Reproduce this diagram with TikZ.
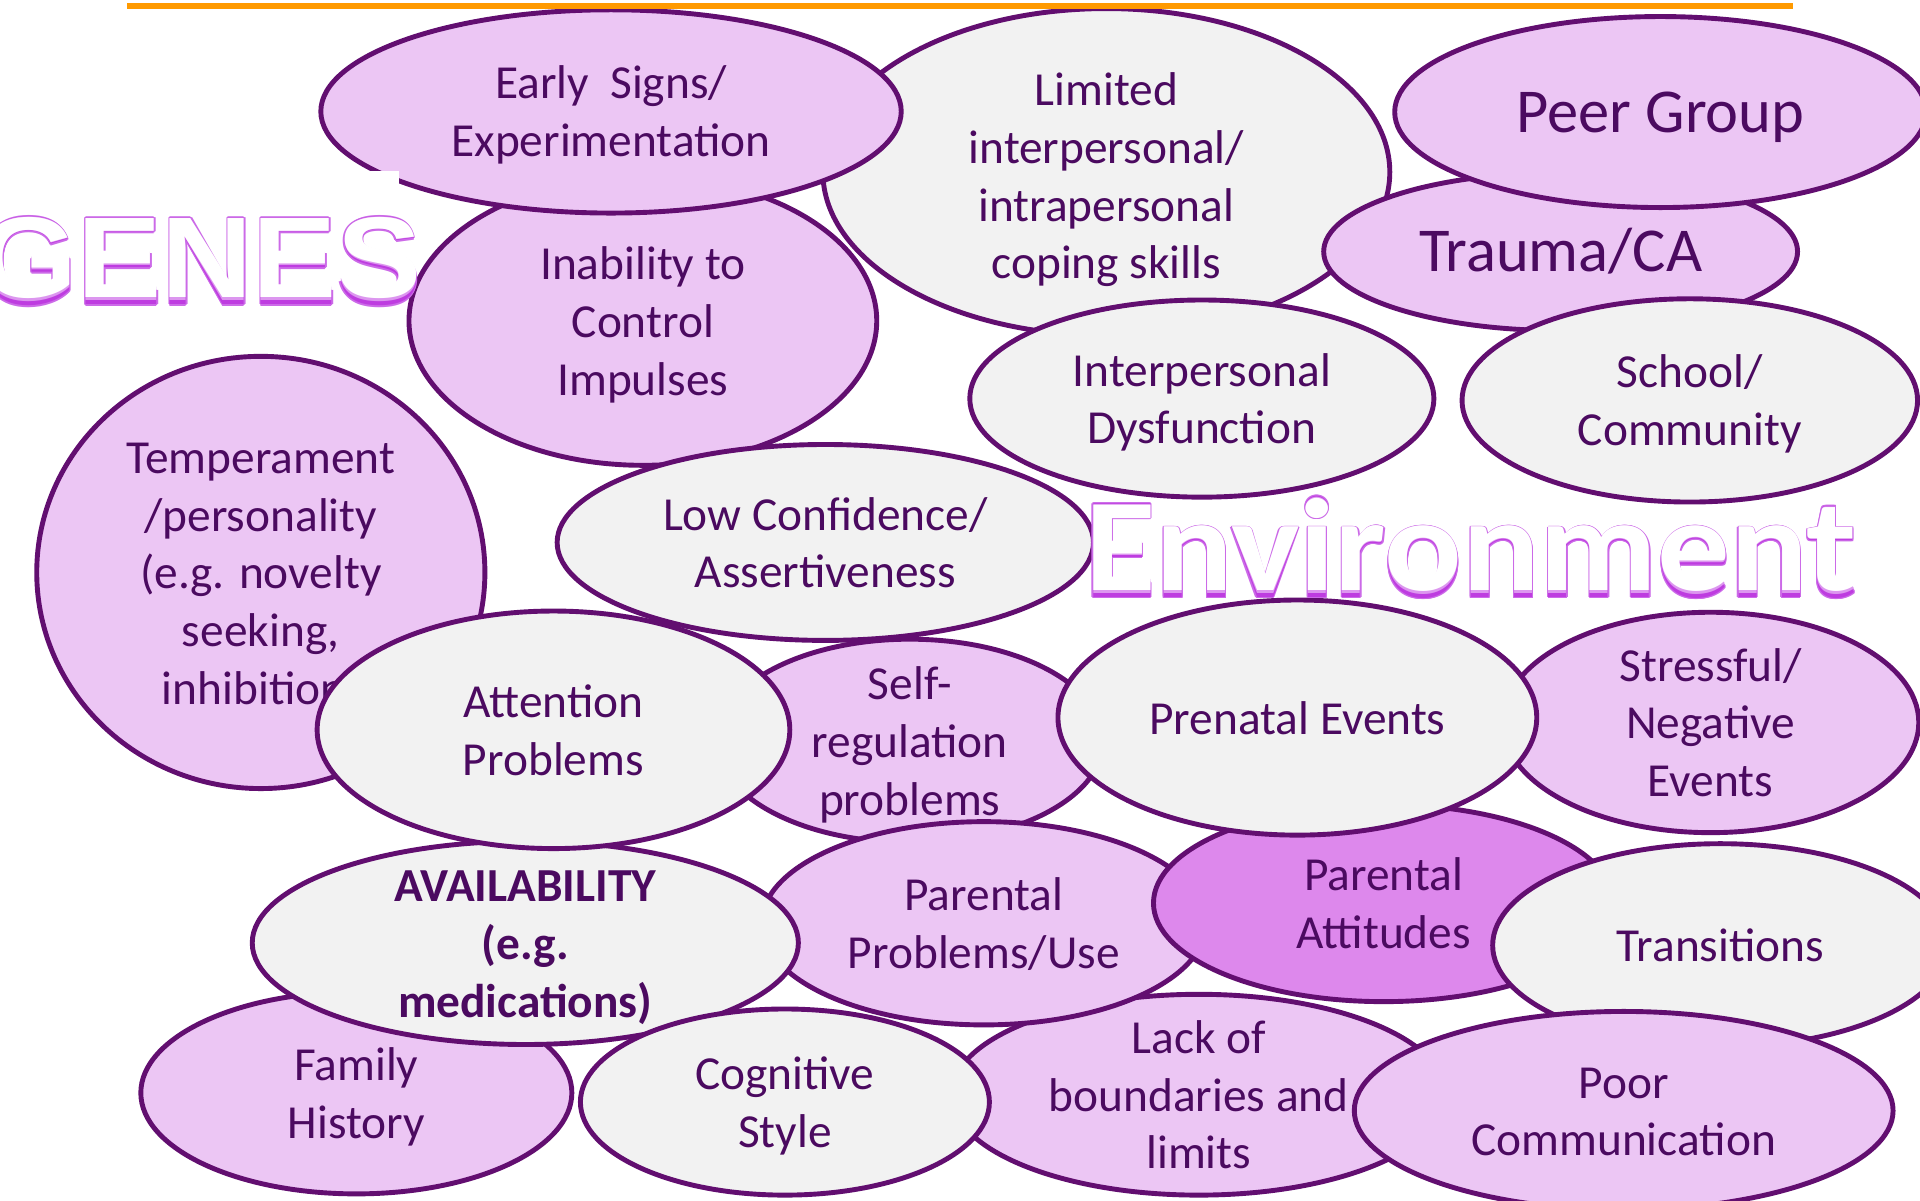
\documentclass[tikz,border=0pt]{standalone}
\usepackage{fontspec}
\setmainfont{Carlito}
\newfontfamily\genesfont{Liberation Sans}
\usetikzlibrary{shapes.geometric}
\definecolor{outl}{HTML}{620E70}
\definecolor{txt}{HTML}{4B0A60}
\definecolor{lav}{HTML}{ECC6F4}
\definecolor{gry}{HTML}{F2F2F2}
\definecolor{mauve}{HTML}{DD88EC}
\definecolor{fxdark}{HTML}{BE3CE0}
\definecolor{fxmid}{HTML}{DC96EF}
\definecolor{fxline}{HTML}{CC6AE8}
\definecolor{orng}{HTML}{FF9A00}
\tikzset{
  bubble/.style={ellipse, draw=outl, line width=4pt, inner sep=0pt, outer sep=0pt},
  btext/.style={align=center, text=txt, inner sep=0pt, yshift=-4pt, font=\fontsize{38.7}{47.2}\selectfont},
  bigtext/.style={align=center, text=txt, inner sep=0pt, yshift=-4pt, font=\fontsize{51}{62}\selectfont},
  lowtext/.style={btext, yshift=-3pt},
  fx/.style={inner sep=0pt, outer sep=0pt},
  orangeline/.style={draw=orng, line width=4.6pt},
}
% #1 text style, #2 name, #3 x, #4 y, #5 width, #6 height, #7 fill, #8 text
\newcommand\bub[8][btext]{%
  \node[bubble, fill=#7, minimum width=#5pt-4pt, minimum height=#6pt-4pt] (#2) at (#3,#4) {};
  \node[#1] (#2-t) at (#2.center) {\strut #8\strut};
}
% #1 name, #2 anchor, #3 coordinate, #4 extra options, #5 content
\newcommand\fancy[5]{%
  \foreach \dx/\dy [count=\k] in {-1/0,1/0,0/-1,0/1,-0.7/-0.7,0.7/-0.7,-0.7/0.7,0.7/0.7}
    \node[fx, #4, anchor=#2, text=fxline, xshift=\dx pt, yshift=\dy pt] (#1-o\k) at #3 {#5};
  \node[fx, #4, anchor=#2, text=fxdark] (#1) at #3 {#5};
  \node[fx, #4, anchor=#2, text=fxmid, yscale=0.95, yshift=-0.6pt] (#1-m) at #3 {#5};
  \node[fx, #4, anchor=#2, text=white, yscale=0.91, yshift=-1pt] (#1-w) at #3 {#5};
}
\begin{document}
\begin{tikzpicture}[x=1pt,y=-1pt]
\useasboundingbox (0,0) rectangle (1568,980);
\clip (0,0) rectangle (1568,980);
\fill[white] (0,0) rectangle (1568,980);

\bub[lowtext]{limited}{903.5}{140.5}{467}{271}{gry}{Limited\\interpersonal/\\intrapersonal\\coping skills}
\bub{inability}{525}{262}{386}{240}{lav}{Inability to\\Control\\Impulses}
\bub{early}{499}{91}{478}{170}{lav}{Early\ \ Signs/\\Experimentation}
\bub[bigtext]{trauma}{1274.5}{205.5}{391}{133}{lav}{Trauma/CA}
\bub[bigtext]{peer}{1356}{91.5}{438}{160}{lav}{Peer Group}
\bub{school}{1380}{327}{376}{170}{gry}{School/\\Community}
\bub{interdys}{981.5}{325.5}{383}{165}{gry}{Interpersonal\\Dysfunction}
\bub{selfreg}{743}{605}{320}{170}{lav}{Self-\\regulation\\problems}
\bub{lowconf}{674}{443}{442}{164}{gry}{Low Confidence/\\Assertiveness}
\bub{temper}{213}{467.5}{370}{357}{lav}{Temperament\\/personality\\(e.g. novelty\\seeking,\\inhibition)}
\bub{stress}{1397}{590}{344}{184}{lav}{Stressful/\\Negative\\Events}
\bub{lack}{979}{894}{408}{168}{lav}{Lack of\\boundaries and\\limits}
\bub{parprob}{803.5}{754}{367}{170}{lav}{Parental\\Problems/Use}
\bub{paratt}{1130}{737.5}{380}{165}{mauve}{Parental\\Attitudes}
\bub{prenatal}{1059.5}{586}{395}{196}{gry}{Prenatal Events}
\bub{family}{291}{892.5}{356}{169}{lav}{Family\\History}
\bub{avail}{429}{770}{450}{170}{gry}{\bfseries AVAILABILITY\\\bfseries (e.g.\\\bfseries medications)}
\bub{attention}{452}{596}{390}{198}{gry}{Attention\\Problems}
\bub{cognitive}{641}{900}{338}{156}{gry}{Cognitive\\Style}
\bub{transit}{1405}{772}{376}{170}{gry}{Transitions}
\bub{poorcomm}{1326}{907}{444}{166}{lav}{Poor\\Communication}

% GENES label with its white text box
\fill[white] (0,140) rectangle (326,268);
\fancy{genes}{north west}{(-16.6,173)}{text height=76pt, text depth=0pt}{\genesfont\bfseries\fontsize{103}{110}\selectfont GENES}
% Environment label
\fancy{env}{north}{(1201,412)}{text height=76pt, text depth=0pt}{\bfseries\fontsize{118}{125}\selectfont Environment}

% orange rule at the top
\coordinate (ruleL) at (104,5);
\coordinate (ruleR) at (1464,5);
\draw[orangeline] (ruleL) -- (ruleR);
\end{tikzpicture}
\end{document}
